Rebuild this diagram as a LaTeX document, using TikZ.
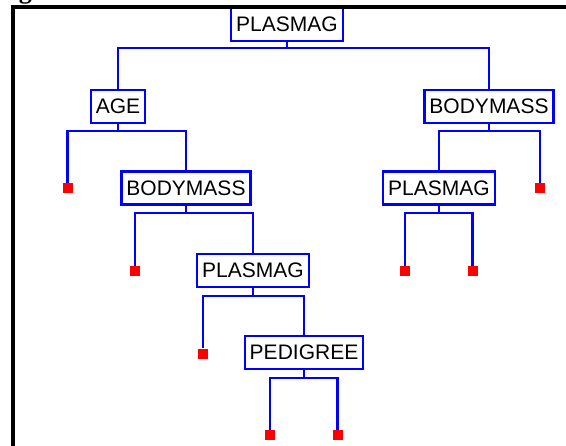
\documentclass[tikz,border=0pt]{standalone}
\usepackage{fontspec}
\setmainfont{Liberation Sans}
\newfontfamily\capserif{Liberation Serif}
\definecolor{treeblue}{RGB}{0,0,255}
\definecolor{leafred}{RGB}{255,0,0}
\begin{document}
\begin{tikzpicture}[x=1pt,y=-1pt,
  vbox/.style={draw=treeblue, line width=2.4pt, fill=white, inner xsep=5pt, inner ysep=0pt,
               minimum height=33pt, font=\fontsize{21}{25}\selectfont},
  leaf/.style={fill=leafred, minimum size=10pt, inner sep=0pt, draw=none},
  edge/.style={draw=treeblue, line width=2.3pt},
  frame/.style={draw=black, line width=4pt, line join=miter}]
\useasboundingbox (0,0) rectangle (566,446);
\fill[white] (0,0) rectangle (566,446);

% nodes
\node[vbox] (root) at (287,24.5) {PLASMAG};
\node[vbox] (age) at (118,106.5) {AGE};
\node[vbox] (bmr) at (489,106.5) {BODYMASS};
\node[leaf] (l1) at (67.5,188.5) {};
\node[vbox] (bml) at (186,188) {BODYMASS};
\node[vbox] (plr) at (439,188) {PLASMAG};
\node[leaf] (l2) at (540,188.5) {};
\node[leaf] (l3) at (135,271.3) {};
\node[vbox] (plm) at (253,270.5) {PLASMAG};
\node[leaf] (l4) at (405,271.3) {};
\node[leaf] (l5) at (472.5,271.3) {};
\node[leaf] (l6) at (202.7,353.7) {};
\node[vbox] (ped) at (304,352.5) {PEDIGREE};
\node[leaf] (l7) at (270,435.3) {};
\node[leaf] (l8) at (337.5,435.3) {};

% connectors
\draw[edge] (root.south) -- ++(0,6) coordinate (r1) -| (age.north);
\draw[edge] (r1) -| (bmr.north);
\draw[edge] (age.south) -- ++(0,7) coordinate (a1) -| (l1.north);
\draw[edge] (a1) -| (bml.north);
\draw[edge] (bmr.south) -- ++(0,7) coordinate (b1) -| (plr.north);
\draw[edge] (b1) -| (l2.north);
\draw[edge] (bml.south) -- ++(0,7.5) coordinate (c1) -| (l3.north);
\draw[edge] (c1) -| (plm.north);
\draw[edge] (plr.south) -- ++(0,7.5) coordinate (d1) -| (l4.north);
\draw[edge] (d1) -| (l5.north);
\draw[edge] (plm.south) -- ++(0,7.5) coordinate (e1) -| (l6.north);
\draw[edge] (e1) -| (ped.north);
\draw[edge] (ped.south) -- ++(0,7.5) coordinate (f1) -| (l7.north);
\draw[edge] (f1) -| (l8.north);

% frame and cut caption
\draw[frame] (13,452) -- (13,7) -- (572,7);
\node[font=\capserif\bfseries\fontsize{26}{28}\selectfont, anchor=base, inner sep=0pt] (cap) at (25.5,-1.5) {g};
\end{tikzpicture}
\end{document}
